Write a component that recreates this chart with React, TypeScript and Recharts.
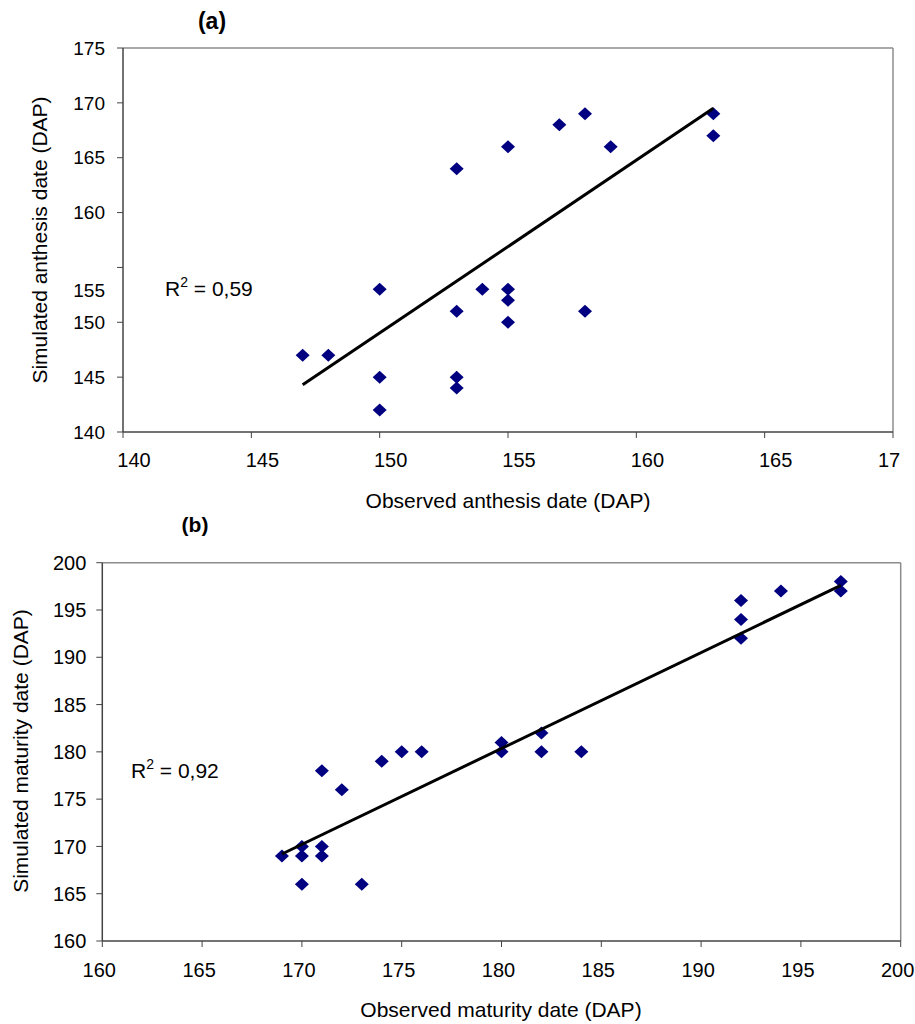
import React from 'react';
import {
  ScatterChart,
  Scatter,
  XAxis,
  YAxis,
  ReferenceLine,
  Label,
} from 'recharts';

// (a) anthesis
const anthesisObserved = [147, 148, 150, 150, 150, 153, 153, 153, 153, 154, 155, 155, 155, 155, 157, 158, 158, 159, 163, 163];
const anthesisSimulated = [147, 147, 153, 145, 142, 164, 151, 145, 144, 153, 166, 153, 152, 150, 168, 169, 151, 166, 169, 167];
const anthesisFitObserved = [147, 163];
const anthesisFitSimulated = [144.3, 169.5];
const anthesisXTicks = [140, 145, 150, 155, 160, 165, 170];
const anthesisYTicks = [140, 145, 150, 155, 160, 165, 170, 175];

// (b) maturity
const maturityObserved = [169, 170, 170, 170, 171, 171, 171, 172, 173, 174, 175, 176, 180, 180, 182, 182, 184, 192, 192, 192, 194, 197, 197];
const maturitySimulated = [169, 170, 169, 166, 178, 170, 169, 176, 166, 179, 180, 180, 181, 180, 182, 180, 180, 196, 194, 192, 197, 198, 197];
const maturityFitObserved = [169, 197];
const maturityFitSimulated = [169.2, 197.6];
const maturityTicks = [160, 165, 170, 175, 180, 185, 190, 195, 200];

const toPoints = (xs: number[], ys: number[]) => xs.map((x, i) => ({ x, y: ys[i] }));

const FONT = '"Liberation Sans", Arial, sans-serif';
const NAVY = '#000080';
const AXIS = '#444';
const BORDER = '#8c8c8c';

const Diamond = (props: any) => {
  const { cx, cy } = props;
  return <path d={`M${cx},${cy - 6.5}L${cx + 7},${cy}L${cx},${cy + 6.5}L${cx - 7},${cy}Z`} fill={NAVY} />;
};

const NoShape = () => <g />;

// the last label of panel (a) is cut to "17" at the figure edge in the original
const xTick = (dx: number, labels: Record<number, string>, shift: Record<number, number>) => (props: any) => (
  <text
    x={props.x + dx + (shift[props.payload.value] || 0)}
    y={props.y}
    dy="0.71em"
    textAnchor="middle"
    fontSize={20}
    fontFamily={FONT}
    fill="#000"
  >
    {labels[props.payload.value] ?? props.payload.value}
  </text>
);

// the 155 label in panel (a) sits below its tick in the original
const yTick = (fontSize: number, shift: Record<number, number>) => (props: any) => (
  <text
    x={props.x}
    y={props.y + (shift[props.payload.value] || 0)}
    dy="0.355em"
    textAnchor="end"
    fontSize={fontSize}
    fontFamily={FONT}
    fill="#000"
  >
    {props.payload.value}
  </text>
);

const axisTitle = (text: string, x: number, y: number, rotate: boolean) => () => (
  <text
    x={x}
    y={y}
    textAnchor="middle"
    fontSize={21}
    fontFamily={FONT}
    fill="#000"
    transform={rotate ? `rotate(-90 ${x} ${y})` : undefined}
  >
    {text}
  </text>
);

export default function App() {
  const anthesis = toPoints(anthesisObserved, anthesisSimulated);
  const anthesisFit = toPoints(anthesisFitObserved, anthesisFitSimulated);
  const maturity = toPoints(maturityObserved, maturitySimulated);
  const maturityFit = toPoints(maturityFitObserved, maturityFitSimulated);

  return (
    <div style={{ position: 'absolute', left: 0, top: 0, width: 915, height: 1024, background: '#fff' }}>
      <div style={{ position: 'absolute', left: 0, top: 0 }}>
        <ScatterChart width={915} height={520} margin={{ top: 48, right: 22, left: 0, bottom: 58 }}>
          <XAxis
            type="number"
            dataKey="x"
            domain={[140, 170]}
            ticks={anthesisXTicks}
            height={30}
            tickSize={6}
            tickMargin={15}
            axisLine={{ stroke: AXIS, strokeWidth: 1.5 }}
            tickLine={{ stroke: AXIS }}
            tick={xTick(11, { 170: '17' }, { 170: -15 })}
          >
            <Label content={axisTitle('Observed anthesis date (DAP)', 508, 508, false)} />
          </XAxis>
          <YAxis
            type="number"
            dataKey="y"
            domain={[140, 175]}
            ticks={anthesisYTicks}
            width={123}
            tickSize={6}
            tickMargin={12}
            axisLine={{ stroke: AXIS, strokeWidth: 1.5 }}
            tickLine={{ stroke: AXIS }}
            tick={yTick(19, { 155: 22.6 })}
          >
            <Label content={axisTitle('Simulated anthesis date (DAP)', 46.5, 240, true)} />
          </YAxis>
          <ReferenceLine y={175} stroke={BORDER} strokeWidth={1.5} />
          <ReferenceLine x={170} stroke={BORDER} strokeWidth={1.5} />
          <Scatter data={anthesis} shape={Diamond} isAnimationActive={false} />
          <Scatter
            data={anthesisFit}
            shape={NoShape}
            line={{ stroke: '#000', strokeWidth: 3 }}
            isAnimationActive={false}
          />
        </ScatterChart>
      </div>

      <div style={{ position: 'absolute', left: 0, top: 500 }}>
        <ScatterChart width={915} height={524} margin={{ top: 62.7, right: 14.3, left: 0, bottom: 53 }}>
          <XAxis
            type="number"
            dataKey="x"
            domain={[160, 200]}
            ticks={maturityTicks}
            height={30}
            tickSize={6}
            tickMargin={16}
            axisLine={{ stroke: AXIS, strokeWidth: 1.5 }}
            tickLine={{ stroke: AXIS }}
            tick={xTick(-3, {}, {})}
          >
            <Label content={axisTitle('Observed maturity date (DAP)', 501, 517, false)} />
          </XAxis>
          <YAxis
            type="number"
            dataKey="y"
            domain={[160, 200]}
            ticks={maturityTicks}
            width={102.3}
            tickSize={6}
            tickMargin={10}
            axisLine={{ stroke: AXIS, strokeWidth: 1.5 }}
            tickLine={{ stroke: AXIS }}
            tick={yTick(20, {})}
          >
            <Label content={axisTitle('Simulated maturity date (DAP)', 28.3, 251, true)} />
          </YAxis>
          <ReferenceLine y={200} stroke={BORDER} strokeWidth={1.5} />
          <ReferenceLine x={200} stroke={BORDER} strokeWidth={1.5} />
          <Scatter data={maturity} shape={Diamond} isAnimationActive={false} />
          <Scatter
            data={maturityFit}
            shape={NoShape}
            line={{ stroke: '#000', strokeWidth: 3 }}
            isAnimationActive={false}
          />
        </ScatterChart>
      </div>

      <svg width={915} height={1024} style={{ position: 'absolute', left: 0, top: 0, pointerEvents: 'none' }}>
        <text x={212} y={29} textAnchor="middle" fontSize={23} fontWeight="bold" fontFamily={FONT}>(a)</text>
        <text x={195} y={532} textAnchor="middle" fontSize={21} fontWeight="bold" fontFamily={FONT}>(b)</text>
        <text x={165} y={296} fontSize={21} fontFamily={FONT}>
          R<tspan fontSize={14} dy={-9}>2</tspan><tspan dy={9}> = 0,59</tspan>
        </text>
        <text x={131} y={778} fontSize={21} fontFamily={FONT}>
          R<tspan fontSize={14} dy={-9}>2</tspan><tspan dy={9}> = 0,92</tspan>
        </text>
      </svg>
    </div>
  );
}
